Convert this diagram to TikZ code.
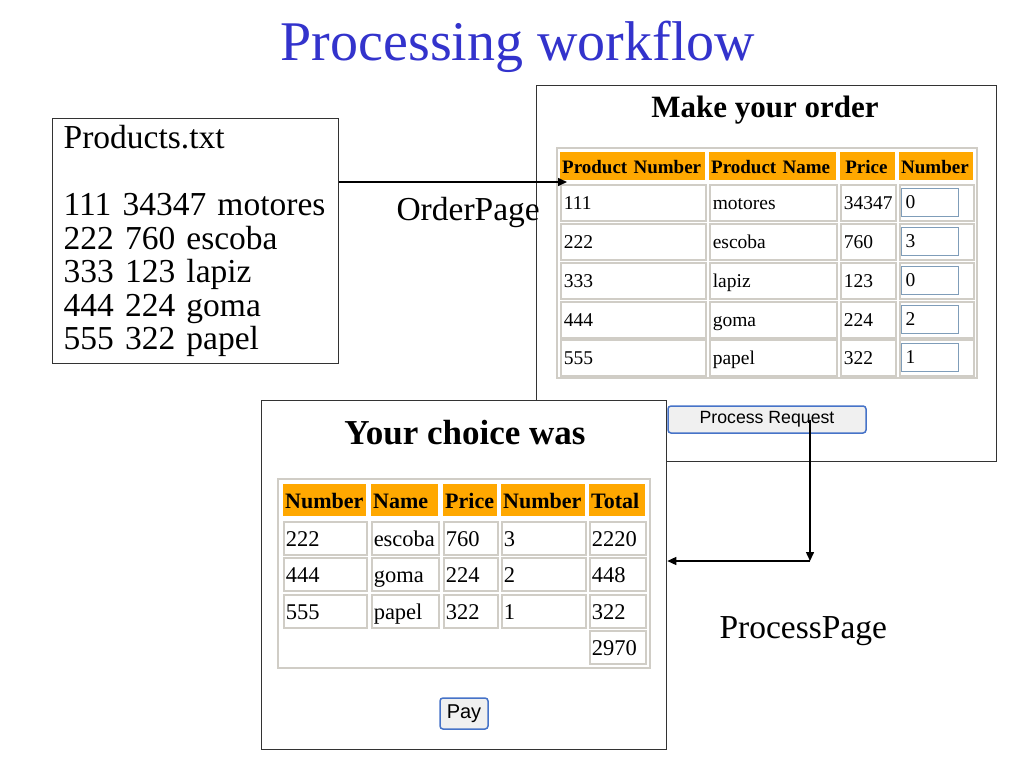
\documentclass[tikz,border=0pt]{standalone}
\usepackage{fontspec}
\setmainfont{Liberation Serif}
\setsansfont{Liberation Sans}
\usetikzlibrary{arrows.meta}
\definecolor{titleblue}{RGB}{51,51,204}
\definecolor{hdrorange}{RGB}{255,168,0}
\definecolor{cellgray}{RGB}{208,205,198}
\definecolor{boxblue}{RGB}{127,157,185}
\definecolor{btnblue}{RGB}{70,115,200}

\begin{document}
\begin{tikzpicture}[x=1pt,y=-1pt]
\tikzstyle{win}=[draw=black!80, line width=1.3, fill=white, anchor=north west, inner sep=0]
\tikzstyle{filebox}=[draw=black!80, line width=1.3, anchor=north west, inner xsep=11, inner ysep=0, text width=264, minimum height=245, align=left, font={\fontsize{33.5}{33.5}\selectfont}]
\tikzstyle{label}=[anchor=base west, font={\fontsize{33.5}{33.5}\selectfont}]
\tikzstyle{outer}=[draw=cellgray, line width=2]
\tikzstyle{mhead}=[fill=hdrorange, anchor=north west, inner xsep=2, inner ysep=0, minimum height=28, text height=15, text depth=1, align=left, font={\bfseries\fontsize{19}{20}\selectfont}]
\tikzstyle{mcell}=[draw=cellgray, line width=1.5, anchor=north west, inner xsep=3, inner ysep=0, minimum height=36, text height=15, text depth=1, align=left, font={\fontsize{19.5}{20}\selectfont}]
\tikzstyle{inbox}=[draw=boxblue, line width=1.3, anchor=north west, inner xsep=4, inner ysep=0, text width=49, minimum height=28, text height=13, text depth=1, align=left, font={\fontsize{19.5}{20}\selectfont}]
\tikzstyle{chead}=[fill=hdrorange, anchor=north west, inner xsep=2, inner ysep=0, minimum height=32, text height=17, text depth=1, align=left, font={\bfseries\fontsize{22}{23}\selectfont}]
\tikzstyle{ccell}=[draw=cellgray, line width=1.5, anchor=north west, inner xsep=2, inner ysep=0, minimum height=33, text height=17, text depth=1, align=left, font={\fontsize{22.5}{23}\selectfont}]
\tikzstyle{btn}=[draw=btnblue, line width=1.5, fill=black!6, rounded corners=3, inner sep=0]
\tikzstyle{conn}=[line width=1.5, -{Triangle[length=9pt,width=8pt]}]

\useasboundingbox (0,0) rectangle (1024,768);

\node[anchor=base, text=titleblue, font={\fontsize{56}{60}\selectfont}] (title) at (518,60) {Processing workflow};

% products file
\node[filebox] (prod) at (52,118) {Products.txt\\[33.5pt]111 34347 motores\\222 760 escoba\\333 123 lapiz\\444 224 goma\\555 322 papel};

% order page
\node[win, minimum width=460, minimum height=376] (order) at (536,85) {};
\node[anchor=base, font={\bfseries\fontsize{31}{32}\selectfont}] (ordertitle) at (765,117) {Make your order};
\draw[outer] (557,148) rectangle (977,378);
\node[mhead, text width=141] (oh1) at (560,152) {Product Number};
\node[mhead, text width=123] (oh2) at (709,152) {Product Name};
\node[mhead, text width=51] (oh3) at (840,152) {\,Price};
\node[mhead, text width=70] (oh4) at (899,152) {Number};
\foreach \r/\yy/\a/\b/\c/\d in {1/184/111/motores/34347/0, 2/223/222/escoba/760/3, 3/262/333/lapiz/123/0, 4/301/444/goma/224/2, 5/339/555/papel/322/1}
{
  \node[mcell, text width=139] (oa\r) at (560,\yy) {\a};
  \node[mcell, text width=121] (ob\r) at (709,\yy) {\b};
  \node[mcell, text width=49] (oc\r) at (840,\yy) {\c};
  \node[mcell, text width=68] (od\r) at (899,\yy) {};
  \node[inbox] (in\r) at (901,\yy+4) {\d};
}
\node[btn, minimum width=198, minimum height=27, font={\sffamily\fontsize{17.7}{18}\selectfont}] (procbtn) at (767,419.5) {Process Request};

% process page
\node[win, minimum width=405, minimum height=349] (choice) at (261,400) {};
\node[anchor=base, font={\bfseries\fontsize{35}{36}\selectfont}] (choicetitle) at (465,444) {Your choice was};
\draw[outer] (278,479) rectangle (650,668);
\node[chead, text width=79] (ch1) at (283,484) {Number};
\node[chead, text width=63] (ch2) at (371,484) {Name};
\node[chead, text width=50] (ch3) at (443,484) {Price};
\node[chead, text width=80] (ch4) at (501,484) {Number};
\node[chead, text width=52] (ch5) at (589,484) {Total};
\foreach \r/\yy/\a/\b/\c/\d/\e in {1/521/222/escoba/760/3/2220, 2/557/444/goma/224/2/448, 3/594/555/papel/322/1/322}
{
  \node[ccell, text width=79] (ca\r) at (283,\yy) {\a};
  \node[ccell, text width=63] (cb\r) at (371,\yy) {\b};
  \node[ccell, text width=50] (cc\r) at (443,\yy) {\c};
  \node[ccell, text width=80] (cd\r) at (501,\yy) {\d};
  \node[ccell, text width=52] (ce\r) at (589,\yy) {\e};
}
\node[ccell, text width=52] (total) at (589,630) {2970};
\node[btn, minimum width=48, minimum height=31, font={\sffamily\fontsize{20}{20}\selectfont}] (paybtn) at (464,713.5) {Pay};

% connectors
\coordinate (in1) at (567,182);
\coordinate (turn) at (810,561);
\draw[conn] (prod.east |- in1) -- (in1);
\draw[conn] (procbtn.center -| turn) -- (turn);
\draw[conn] (turn) -- (choice.east |- turn);

\node[label] (orderlbl) at (393,220) {OrderPage};
\node[label] (processlbl) at (716,638) {ProcessPage};
\end{tikzpicture}
\end{document}
